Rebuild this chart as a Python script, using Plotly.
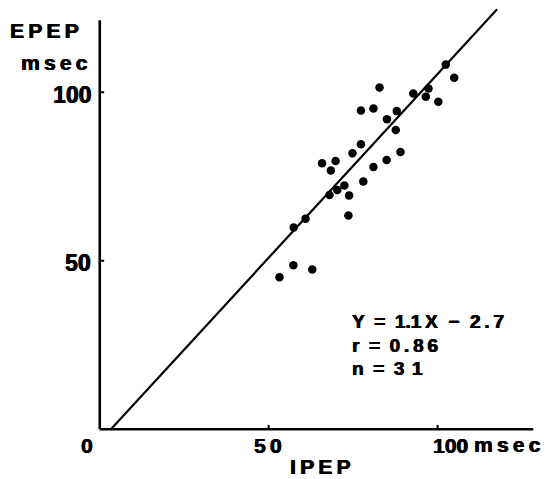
import plotly.graph_objects as go

# ---- data ----
ipep = [104.9, 82.8, 92.8, 97.3, 96.5, 100.2, 77.3, 81.0, 87.9, 85.0,
        87.6, 77.3, 74.8, 89.0, 84.9, 81.0, 65.8, 69.8, 68.4, 78.0,
        72.4, 70.3, 68.0, 73.8, 73.6, 60.9, 57.4, 57.3, 53.2, 62.9, 102.4]
epep = [104.3, 101.4, 99.6, 101.1, 98.7, 97.2, 94.6, 95.2, 94.4, 92.0,
        88.8, 84.6, 81.9, 82.3, 79.9, 77.8, 78.9, 79.6, 76.8, 73.5,
        72.3, 71.0, 69.5, 69.4, 63.4, 62.5, 59.9, 48.7, 45.1, 47.4, 108.2]
fit_x = [3.3, 117.6]
fit_y = [0.0, 124.6]

x_tick_vals = [0, 50, 100]
x_tick_text = ["0", "5\u20090", "100"]
y_tick_vals = [50, 100]
y_tick_text = ["50", "100"]
x_title = "IPEP"
y_title = "EPEP"
unit = "msec"
TS = "\u2009"
NB = "\u00a0"
EN = "\u2002"
stats_lines = ["Y" + EN + "=" + EN + "1.1" + TS + "X" + NB + NB + "\u2212" + NB + NB + "2" + TS + "." + TS + "7",
               "r" + EN + "=" + EN + "0" + TS + "." + TS + "8" + TS + "6",
               "n" + EN + "=" + EN + "3" + TS + TS + "1"]

X_AXIS_END = 128.3
Y_AXIS_END = 121.4

FONT = "Liberation Sans, Arial, sans-serif"
HEAVY = "0.6px 0 0 black, -0.3px 0 0 black"

# plot-area geometry (pixels)
L, R, T, B = 93.2, 11.6, 7.7, 43.3
W, H = 551, 479
PW, PH = W - L - R, H - T - B


def px(x):
    return (x - L) / PW


def py(y):
    return (H - B - y) / PH


def track(s):
    return TS.join(list(s))


fig = go.Figure()
fig.add_trace(go.Scatter(x=fit_x, y=fit_y, mode="lines",
                         line=dict(color="black", width=2.2), hoverinfo="skip"))
fig.add_trace(go.Scatter(x=ipep, y=epep, mode="markers",
                         marker=dict(color="black", size=8.5), hoverinfo="skip"))

shapes = [
    dict(type="line", xref="x", yref="y", x0=0, x1=X_AXIS_END, y0=0, y1=0,
         line=dict(color="black", width=2.6)),
    dict(type="line", xref="x", yref="y", x0=0, x1=0, y0=0, y1=Y_AXIS_END,
         line=dict(color="black", width=2.6)),
]
for v in y_tick_vals:
    shapes.append(dict(type="line", xref="x", yref="y", x0=0, x1=1.3, y0=v, y1=v,
                       line=dict(color="black", width=2)))
for v in x_tick_vals[1:]:
    shapes.append(dict(type="line", xref="x", yref="y", x0=v, x1=v, y0=0, y1=1.3,
                       line=dict(color="black", width=2)))

ann = []
tf = dict(family=FONT, size=21, color="black", shadow=HEAVY)
tfy = dict(family=FONT, size=23, color="black", shadow=HEAVY)


def add(text, x, y, font, xanchor="center"):
    ann.append(dict(x=px(x), y=py(y), xref="paper", yref="paper",
                    text="<b>%s</b>" % text, showarrow=False, font=font,
                    xanchor=xanchor, yanchor="middle"))


# x tick labels
for xp, t in zip([87, 268.5, 451], x_tick_text):
    add(t, xp, 445, tf)
add(track(unit), 507.5, 444, tf)
add(track(x_title), 320, 466, tf)
# y tick labels
for yp, t in zip([262.5, 94.5], y_tick_text):
    add(t, 93.5, yp, tfy, xanchor="right")
add(track(y_title), 44.5, 30.5, tf)
add(track(unit), 55, 62, tf)
# statistics
sf = dict(family=FONT, size=19, color="black", shadow=HEAVY)
for yp, t in zip([321.5, 345, 368.5], stats_lines):
    add(t, 350, yp, sf, xanchor="left")

fig.update_layout(
    width=W, height=H,
    margin=dict(l=L, r=R, t=T, b=B, pad=0),
    paper_bgcolor="white", plot_bgcolor="white",
    showlegend=False,
    shapes=shapes, annotations=ann,
    xaxis=dict(range=[-2, 130], showgrid=False, zeroline=False, showline=False,
               showticklabels=False, ticks=""),
    yaxis=dict(range=[-2, 125], showgrid=False, zeroline=False, showline=False,
               showticklabels=False, ticks=""),
)
fig.write_html("out.html")
